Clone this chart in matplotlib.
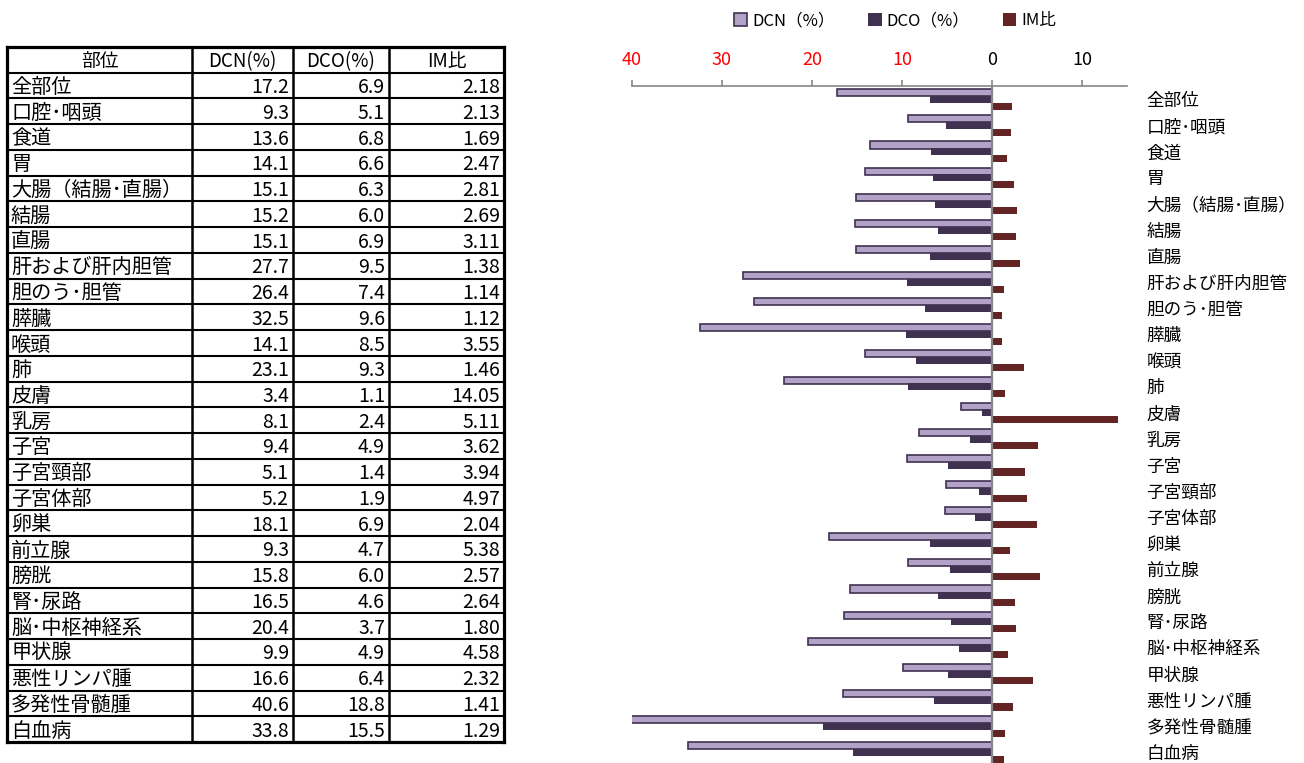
import numpy as np
import matplotlib.pyplot as plt

plt.rcParams['font.family'] = ['Noto Sans CJK JP', 'DejaVu Sans']

# data
sites = ['全部位', '口腔･咽頭', '食道', '胃', '大腸（結腸･直腸）', '結腸', '直腸',
         '肝および肝内胆管', '胆のう･胆管', '膵臓', '喉頭', '肺', '皮膚', '乳房', '子宮',
         '子宮頸部', '子宮体部', '卵巣', '前立腺', '膀胱', '腎･尿路', '脳･中枢神経系',
         '甲状腺', '悪性リンパ腫', '多発性骨髄腫', '白血病']
dcn = [17.2, 9.3, 13.6, 14.1, 15.1, 15.2, 15.1, 27.7, 26.4, 32.5, 14.1, 23.1, 3.4,
       8.1, 9.4, 5.1, 5.2, 18.1, 9.3, 15.8, 16.5, 20.4, 9.9, 16.6, 40.6, 33.8]
dco = [6.9, 5.1, 6.8, 6.6, 6.3, 6.0, 6.9, 9.5, 7.4, 9.6, 8.5, 9.3, 1.1,
       2.4, 4.9, 1.4, 1.9, 6.9, 4.7, 6.0, 4.6, 3.7, 4.9, 6.4, 18.8, 15.5]
im_ratio = [2.18, 2.13, 1.69, 2.47, 2.81, 2.69, 3.11, 1.38, 1.14, 1.12, 3.55, 1.46, 14.05,
            5.11, 3.62, 3.94, 4.97, 2.04, 5.38, 2.57, 2.64, 1.80, 4.58, 2.32, 1.41, 1.29]
headers = ['部位', 'DCN(%)', 'DCO(%)', 'IM比']
xticks = [-40, -30, -20, -10, 0, 10]

fig = plt.figure(figsize=(13.04, 7.63), dpi=100)

# ---- table (pixel coords) ----
tab = fig.add_axes([0, 0, 1, 1])
tab.set_xlim(0, 1304)
tab.set_ylim(763, 0)
tab.axis('off')
cols = [7, 192, 293, 389, 504]
top = 47
rh = 25.74
nrow = len(sites) + 1
bottom = top + nrow * rh
for k in range(nrow + 1):
    yy = top + k * rh
    lw = 2.3 if k in (0, nrow) else 1.5
    tab.plot([cols[0], cols[-1]], [yy, yy], color='black', lw=lw, solid_capstyle='projecting')
for j, xx in enumerate(cols):
    lw = 2.3 if j in (0, len(cols) - 1) else 1.8
    tab.plot([xx, xx], [top, bottom], color='black', lw=lw, solid_capstyle='projecting')

for j, h in enumerate(headers):
    tab.text((cols[j] + cols[j + 1]) / 2, top + rh / 2 + 1.5, h, ha='center', va='center', fontsize=13.5)
for i, s in enumerate(sites):
    yy = top + (i + 1.5) * rh + 2
    tab.text(cols[0] + 4, yy, s, ha='left', va='center', fontsize=14.5)
    tab.text(cols[2] - 4, yy, f'{dcn[i]:.1f}', ha='right', va='center', fontsize=14)
    tab.text(cols[3] - 4, yy, f'{dco[i]:.1f}', ha='right', va='center', fontsize=14)
    tab.text(cols[4] - 4, yy, f'{im_ratio[i]:.2f}', ha='right', va='center', fontsize=14)

# ---- bar chart ----
ax = fig.add_axes([632 / 1304, -2 / 763, 495 / 1304, 679 / 763])
y = np.arange(len(sites))
ax.barh(y - 0.24, -np.array(dcn), height=0.27, color='#B3A2C7', edgecolor='#3F3151',
        lw=1.2, label='DCN（%）')
ax.barh(y + 0.02, -np.array(dco), height=0.27, color='#403151', label='DCO（%）')
ax.barh(y + 0.28, im_ratio, height=0.27, color='#632523', label='IM比')
ax.axvline(0, color='#868686', lw=1.6, zorder=3)

ax.set_xlim(-40, 15)
ax.set_ylim(len(sites) - 0.5, -0.5)
ax.xaxis.tick_top()
ax.set_xticks(xticks, labels=[str(abs(t)) for t in xticks])
for lab, t in zip(ax.get_xticklabels(), xticks):
    lab.set_color('red' if t < 0 else 'black')
ax.tick_params(axis='x', direction='out', length=4.5, width=1.2, color='#868686',
               labelsize=13, pad=8)
ax.yaxis.tick_right()
ax.set_yticks(y, labels=sites)
ax.tick_params(axis='y', length=0, pad=14, labelsize=12.7)
for side in ['left', 'right', 'bottom']:
    ax.spines[side].set_visible(False)
ax.spines['top'].set_color('#868686')
ax.spines['top'].set_linewidth(1.2)

fig.legend(loc='center', bbox_to_anchor=(895 / 1304, 1 - 21 / 763), ncol=3, frameon=False,
           fontsize=12, handlelength=0.8, handleheight=0.8, handletextpad=0.3,
           columnspacing=2.0)

fig.savefig('out.png', dpi=100)
